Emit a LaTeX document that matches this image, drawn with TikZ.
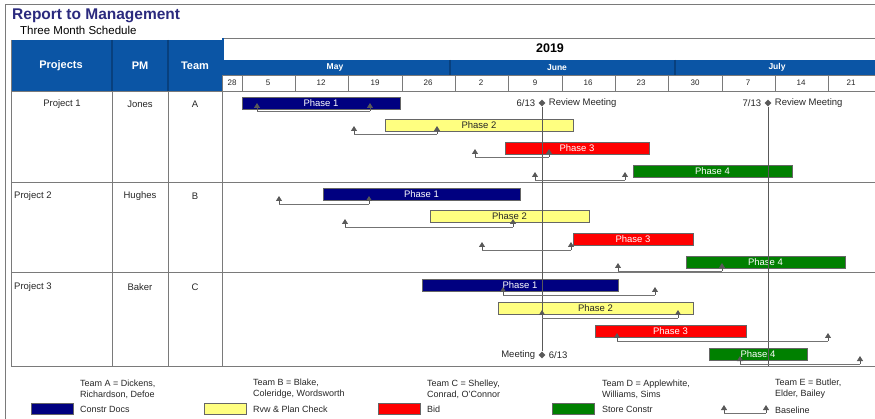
\documentclass[tikz,border=0pt]{standalone}
\usepackage{fontspec}
\setmainfont{Liberation Sans}
\usetikzlibrary{arrows.meta}
\usetikzlibrary{shapes.geometric}

\definecolor{hdrblue}{HTML}{0B55A5}
\definecolor{hdrline}{HTML}{08407E}
\definecolor{titleblue}{HTML}{2B2A7E}
\definecolor{constr}{HTML}{000080}
\definecolor{rvw}{HTML}{FFFF80}
\definecolor{bid}{HTML}{FF0000}
\definecolor{store}{HTML}{008000}
\definecolor{gridgray}{HTML}{7A7A7A}

\newcommand{\chartfont}{\fontsize{9.5}{10}\selectfont}
\newcommand{\legfont}{\fontsize{9}{11}\selectfont}

% baseline: name, start, end, y
\newcommand{\basebar}[4]{%
  \coordinate (#1s) at (#2,#4);
  \coordinate (#1e) at (#3,#4);
  \draw[baseln] (#1s) -- (#1e);
  \draw[basetip] (#1s) -- ++(0,-8);
  \draw[basetip] (#1e) -- ++(0,-8);
}

\begin{document}
\begin{tikzpicture}[x=1pt,y=-1pt,
    grid/.style={gridgray, line width=1pt},
    txt/.style={inner sep=0pt, text=black!85, font=\chartfont},
    legtxt/.style={inner sep=0pt, text=black!85, font=\legfont, align=left, anchor=west},
    hdrtxt/.style={inner sep=0pt, text=white, font=\fontsize{11}{12}\selectfont\bfseries},
    month/.style={inner sep=0pt, text=white, font=\fontsize{8.5}{9}\selectfont\bfseries},
    week/.style={inner sep=0pt, text=black!85, font=\fontsize{8}{9}\selectfont},
    phase/.style={draw=black!60, line width=.5pt, minimum height=12pt, inner sep=0pt, font=\chartfont},
    constrbar/.style={phase, fill=constr, text=white},
    rvwbar/.style={phase, fill=rvw, text=black!85},
    bidbar/.style={phase, fill=bid, text=white},
    storebar/.style={phase, fill=store, text=white},
    swatch/.style={draw=black!60, line width=.5pt, minimum width=42pt, minimum height=11pt, inner sep=0pt},
    baseln/.style={black!55, line width=.9pt},
    basetip/.style={black!65, line width=.8pt, -{Triangle[width=6pt,length=5pt]}},
    meet/.style={diamond, fill=black!65, minimum size=7pt, inner sep=0pt},
    meetline/.style={black!65, line width=1pt}]
  \useasboundingbox (0,0) rectangle (875,419);
  \draw[gridgray, line width=.8pt] (5,419) -- (5,4) -- (875,4);

  % titles
  \node[inner sep=0pt, anchor=west, text=titleblue, font=\fontsize{15.5}{16}\selectfont\bfseries] (title) at (12,16) {Report to Management};
  \node[inner sep=0pt, anchor=west, font=\fontsize{11.5}{12}\selectfont] (subtitle) at (20,30) {Three Month Schedule};

  % header block
  \fill[hdrblue] (11,40) rectangle (222,92);
  \draw[hdrline, line width=1.2pt] (112,40) -- (112,92);
  \draw[hdrline, line width=1.2pt] (168,40) -- (168,92);
  \node[hdrtxt] (hproj) at (61,66) {Projects};
  \node[hdrtxt] (hpm) at (140,66) {PM};
  \node[hdrtxt] (hteam) at (195,66) {Team};

  \draw[gridgray, line width=.8pt] (222,38) -- (875,38);
  \draw[hdrblue, line width=2.5pt] (223,38) -- (223,60);
  \node[inner sep=0pt, font=\fontsize{12.5}{13}\selectfont\bfseries] (year) at (550,48) {2019};

  \fill[hdrblue] (222,60) rectangle (875,75);
  \draw[hdrline, line width=1.2pt] (450,60) -- (450,75);
  \draw[hdrline, line width=1.2pt] (675,60) -- (675,75);
  \node[month] (may) at (335,67.5) {May};
  \node[month] (june) at (557,67.5) {June};
  \node[month] (july) at (777,67.5) {July};

  \draw[grid, line width=.8pt] (222,75) rectangle (875,91);
  \draw[grid, line width=.8pt] (242,75) -- (242,91) (295,75) -- (295,91) (348,75) -- (348,91)
    (402,75) -- (402,91) (455,75) -- (455,91) (508,75) -- (508,91) (562,75) -- (562,91)
    (615,75) -- (615,91) (668,75) -- (668,91) (722,75) -- (722,91) (775,75) -- (775,91)
    (828,75) -- (828,91);
  \node[week] (w28) at (232,83) {28};
  \node[week] (w5) at (268,83) {5};
  \node[week] (w12) at (321,83) {12};
  \node[week] (w19) at (375,83) {19};
  \node[week] (w26) at (428,83) {26};
  \node[week] (w2) at (481,83) {2};
  \node[week] (w9) at (535,83) {9};
  \node[week] (w16) at (588,83) {16};
  \node[week] (w23) at (641,83) {23};
  \node[week] (w30) at (695,83) {30};
  \node[week] (w7) at (748,83) {7};
  \node[week] (w14) at (801,83) {14};
  \node[week] (w21) at (851,83) {21};

  % table grid
  \draw[grid] (11,92) -- (875,92);
  \draw[grid] (11,183) -- (875,183);
  \draw[grid] (11,273) -- (875,273);
  \draw[grid] (11,366) -- (875,366);
  \draw[grid] (11,40) -- (11,366);
  \draw[grid] (112,92) -- (112,366);
  \draw[grid] (168,92) -- (168,366);
  \draw[grid] (222,92) -- (222,366);

  % row labels
  \node[txt] (proj1) at (62,104) {Project 1};
  \node[txt] (pm1) at (140,104) {Jones};
  \node[txt] (team1) at (195,104) {A};
  \node[txt, anchor=west] (proj2) at (14,196) {Project 2};
  \node[txt] (pm2) at (140,196) {Hughes};
  \node[txt] (team2) at (195,196) {B};
  \node[txt, anchor=west] (proj3) at (14,287) {Project 3};
  \node[txt] (pm3) at (140,287) {Baker};
  \node[txt] (team3) at (195,287) {C};

  % project 1
  \node[constrbar, minimum width=158pt] (p1a) at (321,103) {Phase 1};
  \node[rvwbar, minimum width=188pt] (p1b) at (479,125) {Phase 2};
  \node[bidbar, minimum width=144pt] (p1c) at (577,148.5) {Phase 3};
  \node[storebar, minimum width=159pt] (p1d) at (712.5,171) {Phase 4};

  % project 2
  \node[constrbar, minimum width=197pt] (p2a) at (421.5,194.5) {Phase 1};
  \node[rvwbar, minimum width=159pt] (p2b) at (509.5,216) {Phase 2};
  \node[bidbar, minimum width=120pt] (p2c) at (633,239.5) {Phase 3};
  \node[storebar, minimum width=159pt] (p2d) at (765.5,262.5) {Phase 4};

  % project 3
  \node[constrbar, minimum width=196pt] (p3a) at (520,285.5) {Phase 1};
  \node[rvwbar, minimum width=195pt] (p3b) at (595.5,308.5) {Phase 2};
  \node[bidbar, minimum width=151pt] (p3c) at (670.5,331.5) {Phase 3};
  \node[storebar, minimum width=98pt] (p3d) at (758,354) {Phase 4};

  % review meetings
  \node[meet] (m1) at (542,103) {};
  \node[meet] (m2) at (768,103) {};
  \node[meet] (m3) at (542,355) {};
  \coordinate (m2end) at (768,366);
  \draw[meetline] (m1) -- (m3);
  \draw[meetline] (m2) -- (m2end);
  \node[txt, anchor=east] (m1date) at ([xshift=-3pt]m1.west) {6/13};
  \node[txt, anchor=west] (m1lbl) at ([xshift=3pt]m1.east) {Review Meeting};
  \node[txt, anchor=east] (m2date) at ([xshift=-3pt]m2.west) {7/13};
  \node[txt, anchor=west] (m2lbl) at ([xshift=3pt]m2.east) {Review Meeting};
  \node[txt, anchor=east] (m3lbl) at ([xshift=-3pt]m3.west) {Meeting};
  \node[txt, anchor=west] (m3date) at ([xshift=3pt]m3.east) {6/13};

  % baselines
  \basebar{b1a}{257}{370}{111}
  \basebar{b1b}{354}{437}{134}
  \basebar{b1c}{475}{549}{157}
  \basebar{b1d}{535}{625}{180}
  \basebar{b2a}{279}{369}{204}
  \basebar{b2b}{345}{513}{227}
  \basebar{b2c}{482}{571}{250}
  \basebar{b2d}{618}{722}{271}
  \basebar{b3a}{503}{655}{295}
  \basebar{b3b}{542}{678}{318}
  \basebar{b3c}{617}{828}{341}
  \basebar{b3d}{740}{860}{364}

  % legend
  \node[legtxt] (teamA) at (80,389) {Team A = Dickens,\\Richardson, Defoe};
  \node[legtxt] (teamB) at (253,389) {Team B = Blake,\\Coleridge, Wordsworth};
  \node[legtxt] (teamC) at (427,389) {Team C = Shelley,\\Conrad, O'Connor};
  \node[legtxt] (teamD) at (602,389) {Team D = Applewhite,\\Williams, Sims};
  \node[legtxt] (teamE) at (775,389) {Team E = Butler,\\Elder, Bailey};

  \node[swatch, fill=constr] (lgconstr) at (52,409) {};
  \node[legtxt] (lgconstrtxt) at (80,409) {Constr Docs};
  \node[swatch, fill=rvw] (lgrvw) at (225,409) {};
  \node[legtxt] (lgrvwtxt) at (253,409) {Rvw \& Plan Check};
  \node[swatch, fill=bid] (lgbid) at (399,409) {};
  \node[legtxt] (lgbidtxt) at (427,409) {Bid};
  \node[swatch, fill=store] (lgstore) at (573,409) {};
  \node[legtxt] (lgstoretxt) at (602,409) {Store Constr};
  \basebar{lgb}{724}{766}{413}
  \node[legtxt] (lgbasetxt) at (775,410) {Baseline};
\end{tikzpicture}
\end{document}
